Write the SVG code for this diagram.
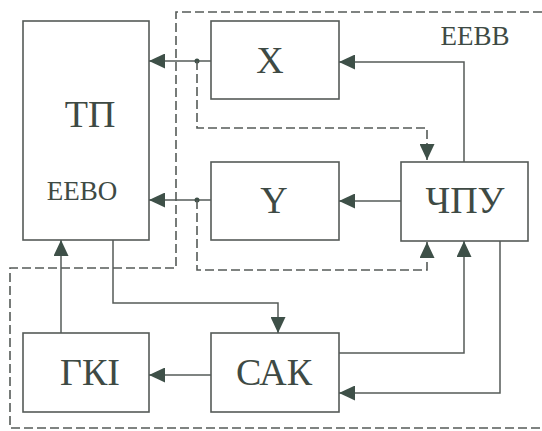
<svg xmlns="http://www.w3.org/2000/svg" width="542" height="431" viewBox="0 0 542 431">
<defs>
<marker id="ah" markerUnits="userSpaceOnUse" markerWidth="17" markerHeight="15" refX="16" refY="7.5" orient="auto">
<path d="M0,0 L16,7.5 L0,15 Z" fill="#3e5048"/>
</marker>
<style>
.box{fill:none;stroke:#555b58;stroke-width:1.6}
.ln{fill:none;stroke:#555b58;stroke-width:1.5}
.dash{fill:none;stroke:#555b58;stroke-width:1.6;stroke-dasharray:9 4}
.t{fill:#3e4a44;text-anchor:middle}
.big{font-size:38px}
.sm{font-size:27px}
</style>
</defs>
<rect width="542" height="431" fill="#ffffff"/>
<g id="boundary">
<path class="dash" d="M542,12 H176 V268 H10 V428 H542"/>
</g>
<g font-family="Liberation Serif, DejaVu Serif, serif">
<g id="TP">
<rect class="box" x="23" y="21" width="126" height="219"/>
<text class="t big" x="90" y="127">ТП</text>
<text class="t sm" x="82" y="200">EEBO</text>
</g>
<g id="X">
<rect class="box" x="211" y="21" width="128" height="78"/>
<text class="t big" x="270" y="73">X</text>
</g>
<g id="Y">
<rect class="box" x="211" y="162" width="128" height="78"/>
<text class="t big" x="274" y="213">Y</text>
</g>
<g id="CHPU">
<rect class="box" x="401" y="162" width="127" height="79"/>
<text class="t big" x="465" y="213">ЧПУ</text>
</g>
<g id="GKI">
<rect class="box" x="23" y="333" width="126" height="79"/>
<text class="t big" x="90" y="385">ГКІ</text>
</g>
<g id="SAK">
<rect class="box" x="211" y="333" width="128" height="79"/>
<text class="t big" x="274" y="385">САК</text>
</g>
<g id="label-EEBB">
<text class="t sm" x="475" y="45">EEBB</text>
</g>
</g>
<g id="connectors">
<path class="ln" d="M211,61 H149" marker-end="url(#ah)"/>
<path class="ln" d="M211,200 H149" marker-end="url(#ah)"/>
<circle cx="197" cy="61" r="2.5" fill="#3e5048"/>
<circle cx="197" cy="200" r="2.5" fill="#3e5048"/>
<path class="dash" d="M197,61 V128 H427 V160" marker-end="url(#ah)"/>
<path class="dash" d="M197,200 V270 H427 V242" marker-end="url(#ah)"/>
<path class="ln" d="M464,162 V62 H339" marker-end="url(#ah)"/>
<path class="ln" d="M401,201 H339" marker-end="url(#ah)"/>
<path class="ln" d="M113,240 V303 H278 V333" marker-end="url(#ah)"/>
<path class="ln" d="M211,375 H149" marker-end="url(#ah)"/>
<path class="ln" d="M61,333 V240" marker-end="url(#ah)"/>
<path class="ln" d="M339,353 H464 V241" marker-end="url(#ah)"/>
<path class="ln" d="M500,241 V393 H339" marker-end="url(#ah)"/>
</g>
</svg>
